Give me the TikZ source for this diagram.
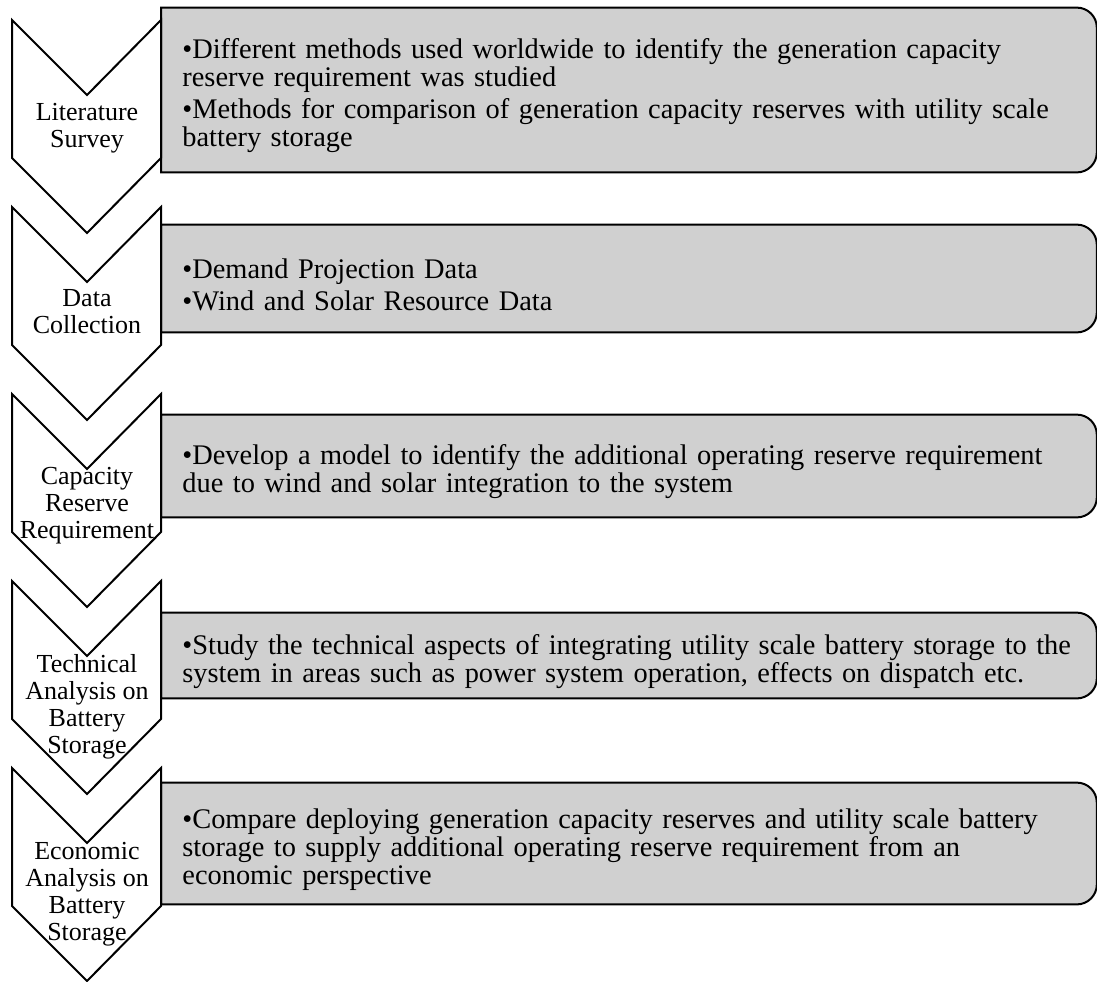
\documentclass[tikz,border=0pt]{standalone}
\usepackage{fontspec}
\setmainfont{Liberation Serif}
\usetikzlibrary{backgrounds}

\definecolor{boxgray}{RGB}{208,208,208}
\newlength\bulletwd
\newcommand\bitem[1]{\par\settowidth{\bulletwd}{\textbullet}\hangindent=\bulletwd\hangafter=1\noindent\textbullet#1}

\tikzset{
  chevron/.style={draw, line width=1pt, line join=miter},
  steplabel/.style={align=center, inner sep=0pt, font=\fontsize{13}{13.5}\selectfont},
  infobox/.style={anchor=west, text width=446.5pt, inner xsep=10.5pt, inner ysep=0pt, align=left,
    font=\fontsize{14.2}{14}\selectfont\setlength{\parskip}{2pt}},
  boxline/.style={draw, line width=1pt, fill=boxgray}
}

\begin{document}
\begin{tikzpicture}[x=0.5pt, y=-0.5pt]
\useasboundingbox (0,0) rectangle (1097,981);

% the five chevrons down the left side
\foreach \t/\ly/\txt [count=\i] in {20/128/{Literature\\Survey},
    207/312/{Data\\Collection},
    394/506/{Capacity\\Reserve\\Requirement},
    581/707/{Technical\\Analysis on\\Battery\\Storage},
    768/894/{Economic\\Analysis on\\Battery\\Storage}}{
  \draw[chevron] (12,\t) -- (87,\t+75) -- (161,\t) -- (161,\t+138) -- (87,\t+213) -- (12,\t+138) -- cycle;
  \node[steplabel] (step\i) at (87,\ly) {\txt};
}

% the text boxes
\node[infobox, minimum height=82pt] (box1) at (161,90)
  {\bitem{Different methods used worldwide to identify the generation capacity\\reserve requirement was studied}
   \bitem{Methods for comparison of generation capacity reserves with utility scale\\battery storage}};
\node[infobox, minimum height=53.5pt] (box2) at (161,278.5)
  {\bitem{Demand Projection Data}
   \bitem{Wind and Solar Resource Data}};
\node[infobox, minimum height=51pt] (box3) at (161,466)
  {\bitem{Develop a model to identify the additional operating reserve requirement\\due to wind and solar integration to the system}};
\node[infobox, minimum height=42.5pt] (box4) at (161,655.5)
  {\bitem{Study the technical aspects of integrating utility scale battery storage to the\\system in areas such as power system operation, effects on dispatch etc.}};
\node[infobox, minimum height=60.5pt] (box5) at (161,843.5)
  {\bitem{Compare deploying generation capacity reserves and utility scale battery\\storage to supply additional operating reserve requirement from an\\economic perspective}};

% square on the left, rounded on the right
\begin{scope}[on background layer]
  \foreach \b in {box1,box2,box3,box4,box5}
    \draw[boxline] (\b.north west) -- ([xshift=-10pt]\b.north east)
      arc[start angle=90, end angle=0, radius=10pt] -- ([yshift=10pt]\b.south east)
      arc[start angle=0, end angle=-90, radius=10pt] -- (\b.south west) -- cycle;
\end{scope}
\end{tikzpicture}
\end{document}
